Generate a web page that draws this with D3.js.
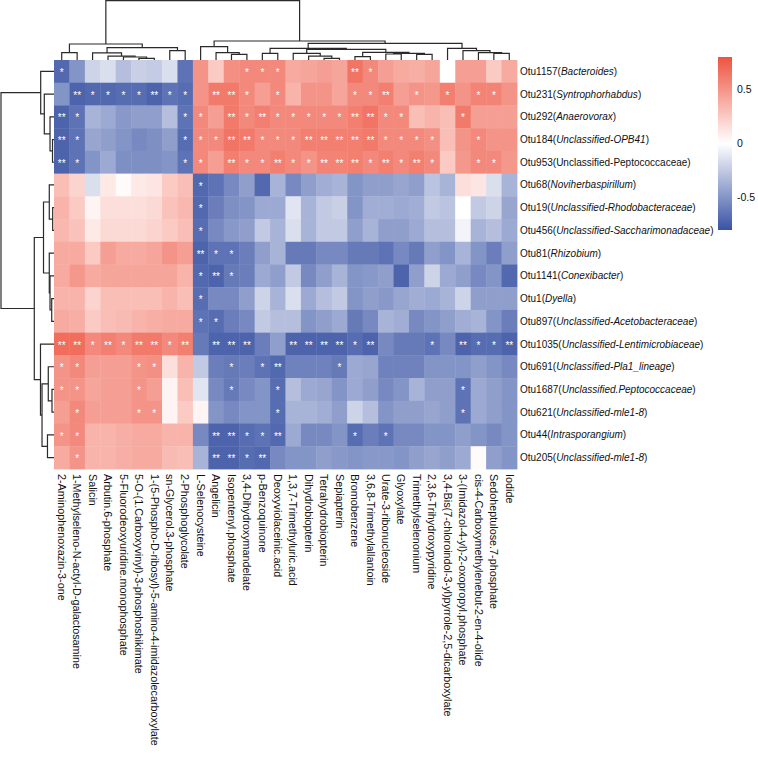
<!DOCTYPE html>
<html><head><meta charset="utf-8">
<script src="https://cdn.jsdelivr.net/npm/d3@7"></script>
<style>
body{margin:0;background:#fff}
svg{display:block}
text{font-family:"Liberation Sans",Arial,sans-serif;}
</style>
</head><body>
<svg id="chart" width="758" height="758"></svg>
<script>
// ---------------- data ----------------
const colNames = [
  "2-Aminophenoxazin-3-one",
  "1-Methylseleno-N-actyl-D-galactosamine",
  "Salicin",
  "Arbutin.6-phosphate",
  "5-Fluorodeoxyuridine.monophosphate",
  "5-O-(1.Carboxyvinyl)-3-phosphoshikimate",
  "1-(5-Phospho-D-ribosyl)-5-amino-4-imidazolecarboxylate",
  "sn-Glycerol.3-phosphate",
  "2-Phosphoglycolate",
  "L-Selenocysteine",
  "Angelicin",
  "Isopentenyl.phosphate",
  "3,4-Dihydroxymandelate",
  "p-Benzoquinone",
  "Deoxyviolaceinic.acid",
  "1,3,7-Trimethyluric.acid",
  "Dihydrobiopterin",
  "Tetrahydrobiopterin",
  "Sepiapterin",
  "Bromobenzene",
  "3,6,8-Trimethylallantoin",
  "Urate-3-ribonucleoside",
  "Glyoxylate",
  "Trimethylselenonium",
  "2,3,6-Trihydroxypyridine",
  "3,4-Bis(7-chloroindol-3-yl)pyrrole-2,5-dicarboxylate",
  "3-(Imidazol-4-yl)-2-oxopropyl.phosphate",
  "cis-4-Carboxymethylenebut-2-en-4-olide",
  "Sedoheptulose.7-phosphate",
  "Iodide"
];

const rowIds = ["Otu1157","Otu231","Otu292","Otu184","Otu953","Otu68","Otu19","Otu456","Otu81",
  "Otu1141","Otu1","Otu897","Otu1035","Otu691","Otu1687","Otu621","Otu44","Otu205"];
const rowTaxa = ["Bacteroides","Syntrophorhabdus","Anaerovorax","Unclassified-OPB41",
  "Unclassified-Peptococcaceae","Noviherbaspirillum","Unclassified-Rhodobacteraceae",
  "Unclassified-Saccharimonadaceae","Rhizobium","Conexibacter","Dyella",
  "Unclassified-Acetobacteraceae","Unclassified-Lentimicrobiaceae","Unclassified-Pla1_lineage",
  "Unclassified.Peptococcaceae","Unclassified-mle1-8","Intrasporangium","Unclassified-mle1-8"];
const uprightTaxa = ["Otu953"];

// correlation values, one array per row (18 rows x 30 columns)
const values = [
  [-0.70,-0.50,-0.20,-0.15,-0.30,-0.22,-0.24,-0.15,-0.65, 0.50,0.25,0.52, 0.55,0.55,0.55,0.40,0.42,0.45,0.42,0.65, 0.55,0.45,0.40,0.38,0.42, 0.00,0.45,0.45,0.25,0.40],
  [-0.50,-0.72,-0.70,-0.70,-0.68,-0.68,-0.72,-0.65,-0.68, 0.50,0.62,0.62, 0.55,0.45,0.55,0.35,0.50,0.50,0.42,0.55, 0.55,0.60,0.45,0.50,0.48, 0.60,0.50,0.58,0.58,0.50],
  [-0.72,-0.65,-0.35,-0.40,-0.48,-0.45,-0.45,-0.30,-0.65, 0.55,0.45,0.62, 0.55,0.60,0.55,0.55,0.55,0.55,0.55,0.60, 0.65,0.55,0.55,0.30,0.35, 0.30,0.62,0.45,0.45,0.45],
  [-0.72,-0.65,-0.42,-0.45,-0.50,-0.55,-0.52,-0.45,-0.68, 0.55,0.55,0.65, 0.62,0.55,0.55,0.55,0.60,0.60,0.60,0.60, 0.62,0.55,0.55,0.55,0.52, 0.30,0.50,0.55,0.50,0.50],
  [-0.72,-0.65,-0.50,-0.40,-0.52,-0.52,-0.52,-0.50,-0.65, 0.55,0.45,0.60, 0.55,0.55,0.60,0.55,0.50,0.58,0.58,0.60, 0.55,0.60,0.55,0.60,0.55, 0.25,0.48,0.55,0.55,0.48],
  [0.30,0.20,-0.15,0.10,0.02,0.10,0.12,0.25,0.30, -0.70,-0.65,-0.55, -0.45,-0.70,-0.35,-0.55,-0.45,-0.38,-0.35,-0.50, -0.45,-0.45,-0.42,-0.45,-0.28, -0.35,0.15,0.12,-0.15,-0.35],
  [0.35,0.25,0.05,0.15,0.15,0.15,0.18,0.28,0.33, -0.70,-0.60,-0.52, -0.50,-0.40,-0.40,-0.12,-0.35,-0.25,-0.22,-0.50, -0.38,-0.38,-0.40,-0.38,-0.25, -0.28,0.00,-0.25,-0.20,-0.42],
  [0.33,0.28,0.10,0.18,0.18,0.18,0.20,0.25,0.30, -0.68,-0.55,-0.48, -0.45,-0.25,-0.35,-0.15,-0.35,-0.25,-0.25,-0.45, -0.35,-0.45,-0.45,-0.40,-0.30, -0.30,-0.05,-0.35,-0.30,-0.40],
  [0.40,0.40,0.25,0.45,0.40,0.40,0.42,0.50,0.45, -0.72,-0.65,-0.65, -0.60,-0.45,-0.35,-0.62,-0.62,-0.55,-0.55,-0.62, -0.62,-0.65,-0.55,-0.62,-0.45, -0.50,-0.35,-0.50,-0.60,-0.45],
  [0.40,0.48,0.40,0.42,0.42,0.42,0.42,0.42,0.35, -0.70,-0.72,-0.62, -0.60,-0.40,-0.45,-0.25,-0.55,-0.45,-0.35,-0.50, -0.48,-0.45,-0.72,-0.45,-0.20, -0.40,-0.45,-0.55,-0.50,-0.70],
  [0.35,0.35,0.20,0.30,0.30,0.30,0.30,0.35,0.30, -0.68,-0.55,-0.55, -0.45,-0.20,-0.35,-0.15,-0.40,-0.30,-0.25,-0.50, -0.45,-0.48,-0.42,-0.38,-0.40, -0.35,-0.20,-0.45,-0.45,-0.45],
  [0.40,0.38,0.25,0.30,0.32,0.35,0.38,0.40,0.40, -0.65,-0.68,-0.60, -0.55,-0.25,-0.30,-0.30,-0.50,-0.45,-0.40,-0.62, -0.55,-0.35,-0.38,-0.55,-0.50, -0.45,-0.38,-0.35,-0.50,-0.60],
  [0.68,0.68,0.55,0.60,0.55,0.62,0.62,0.55,0.60, -0.62,-0.72,-0.72, -0.72,-0.60,-0.45,-0.72,-0.72,-0.72,-0.72,-0.68, -0.72,-0.55,-0.62,-0.62,-0.65, -0.55,-0.72,-0.68,-0.68,-0.72],
  [0.50,0.55,0.45,0.45,0.45,0.50,0.52,0.15,0.35, -0.25,-0.60,-0.62, -0.60,-0.65,-0.70,-0.58,-0.58,-0.58,-0.62,-0.40, -0.42,-0.58,-0.58,-0.58,-0.50, -0.50,-0.50,-0.45,-0.50,-0.55],
  [0.50,0.50,0.42,0.45,0.45,0.50,0.45,0.05,0.30, -0.12,-0.55,-0.62, -0.55,-0.50,-0.68,-0.30,-0.40,-0.42,-0.50,-0.40, -0.45,-0.55,-0.50,-0.35,-0.45, -0.45,-0.65,-0.40,-0.45,-0.50],
  [0.45,0.55,0.45,0.45,0.45,0.50,0.50,0.05,0.25, 0.05,-0.50,-0.55, -0.50,-0.50,-0.68,-0.35,-0.35,-0.38,-0.45,-0.20, -0.30,-0.50,-0.45,-0.45,-0.42, -0.45,-0.65,-0.40,-0.45,-0.50],
  [0.50,0.55,0.35,0.35,0.38,0.40,0.40,0.35,0.35, -0.55,-0.72,-0.72, -0.68,-0.65,-0.70,-0.40,-0.55,-0.55,-0.50,-0.68, -0.60,-0.65,-0.55,-0.55,-0.50, -0.50,-0.45,-0.50,-0.55,-0.50],
  [0.40,0.50,0.35,0.35,0.38,0.40,0.40,0.32,0.30, -0.35,-0.72,-0.72, -0.68,-0.70,-0.55,-0.50,-0.50,-0.45,-0.48,-0.50, -0.48,-0.48,-0.50,-0.45,-0.42, -0.45,-0.40,0.02,-0.45,-0.50]
];

// significance per cell: 0 none, 1 "*", 2 "**"
const signif = [
  "100000000000111000021000000000",
  "021111211022101000011201010110",
  "210000001102121111122110001000",
  "210000001112211122222111100100",
  "210000001102112112221212100110",
  "000000000100000000000000000000",
  "000000000100000000000000000000",
  "000000000100000000000000000000",
  "000000000211000000000000000000",
  "000000000121000000000000000000",
  "000000000100000000000000000000",
  "000000000110000000000000000000",
  "221212212022200222212000102112",
  "110001100001012000100000000000",
  "110001000001001000000000001000",
  "010001100000001000000000001000",
  "110000000022112000010100000000",
  "010000000022120000000000000000"
];
const starText = ["", "*", "**"];

const legendTicks = [0.5, 0, -0.5];
const colorDomain = [-0.8, 0, 0.8];

// clustering trees (merge heights in relative distance units; leaves are indices)
const colTree = {h:10, c:[
  {h:2.70, c:[ {h:1.23, c:[0,1]},
               {h:2.07, c:[ {h:1.20, c:[2, {h:0.67, c:[3, {h:0.51, c:[4, {h:0.29, c:[5,6]}]}]}]},
                            {h:1.57, c:[7,8]} ]} ]},
  {h:3.20, c:[
     {h:2.24, c:[9, {h:1.23, c:[10, {h:0.96, c:[11,12]}]}]},
     {h:2.82, c:[
        {h:1.97, c:[ {h:1.13, c:[13,14]},
                     {h:1.80, c:[ {h:1.13, c:[15, {h:0.67, c:[16, {h:0.29, c:[17,18]}]}]},
                                  {h:1.30, c:[ {h:0.56, c:[19,20]},
                                               {h:1.13, c:[ {h:1.01, c:[21,22]}, {h:0.96, c:[23,24]} ]} ]} ]} ]},
        {h:1.97, c:[25, {h:1.57, c:[26, {h:1.23, c:[27, {h:1.13, c:[28,29]}]}]}]}
     ]}
  ]}
]};

const rowTree = {h:10, c:[
  {h:2.51, c:[0, {h:1.83, c:[1, {h:0.75, c:[2, {h:0.28, c:[3,4]}]}]}]},
  {h:3.72, c:[
     {h:1.98, c:[ {h:0.89, c:[5, {h:0.25, c:[6,7]}]},
                  {h:0.89, c:[8, {h:0.75, c:[9, {h:0.43, c:[10,11]}]}]} ]},
     {h:2.55, c:[12, {h:2.26, c:[ {h:1.08, c:[13, {h:0.38, c:[14,15]}]}, {h:1.23, c:[16,17]} ]}]}
  ]}
]};

// ---------------- drawing ----------------
const svg = d3.select("#chart");
const hm = {x0:54, x1:517, y0:60, y1:469};

const x = d3.scaleBand().domain(d3.range(colNames.length)).range([hm.x0, hm.x1]).paddingInner(0).paddingOuter(0);
const y = d3.scaleBand().domain(d3.range(rowIds.length)).range([hm.y0, hm.y1]).paddingInner(0).paddingOuter(0);
const color = d3.scaleLinear().domain(colorDomain).range(["#3953A4", "#ffffff", "#EE5440"]).interpolate(d3.interpolateRgb).clamp(true);

// cells
const cells = [];
values.forEach((row, i) => row.forEach((v, j) => cells.push({i, j, v, s: +signif[i][j]})));

svg.append("g").selectAll("rect").data(cells).join("rect")
  .attr("x", d => x(d.j)).attr("y", d => y(d.i))
  .attr("width", x.bandwidth() + 0.4).attr("height", y.bandwidth() + 0.4)
  .attr("fill", d => color(d.v));

svg.append("g").selectAll("text").data(cells.filter(d => d.s > 0)).join("text")
  .attr("x", d => x(d.j) + x.bandwidth() / 2)
  .attr("y", d => y(d.i) + y.bandwidth() / 2 + 4.6)
  .attr("text-anchor", "middle")
  .attr("font-size", 10)
  .attr("fill", "#ffffff")
  .text(d => starText[d.s]);

// dendrograms
function dendroPaths(tree, leafPos) {
  const root = d3.hierarchy(tree, d => (typeof d === "number") ? null : d.c);
  root.eachAfter(n => {
    if (!n.children) { n.pos = leafPos(n.data); n.ht = 0; }
    else { n.pos = d3.mean(n.children, c => c.pos); n.ht = n.data.h; }
  });
  return root.descendants().filter(n => n.children);
}

const colH = d3.scaleLinear().domain([0, 10]).range([hm.y0, 0.7]);
const rowH = d3.scaleLinear().domain([0, 10]).range([hm.x0, 1]);

const colNodes = dendroPaths(colTree, j => x(j) + x.bandwidth() / 2);
svg.append("g").attr("fill", "none").attr("stroke", "#2a2a2a").attr("stroke-width", 1.2)
  .selectAll("path").data(colNodes).join("path")
  .attr("d", n => {
    const [a, b] = n.children;
    return `M${a.pos},${colH(a.ht)}V${colH(n.ht)}H${b.pos}V${colH(b.ht)}`;
  });

const rowNodes = dendroPaths(rowTree, i => y(i) + y.bandwidth() / 2);
svg.append("g").attr("fill", "none").attr("stroke", "#2a2a2a").attr("stroke-width", 1.2)
  .selectAll("path").data(rowNodes).join("path")
  .attr("d", n => {
    const [a, b] = n.children;
    return `M${rowH(a.ht)},${a.pos}H${rowH(n.ht)}V${b.pos}H${rowH(b.ht)}`;
  });

// row labels
const rl = svg.append("g").selectAll("text").data(rowIds).join("text")
  .attr("x", hm.x1 + 3)
  .attr("y", (d, i) => y(i) + y.bandwidth() / 2)
  .attr("dy", "0.35em")
  .attr("font-size", 10)
  .attr("fill", "#111");
rl.append("tspan").text(d => d + "(");
rl.append("tspan").attr("font-style", d => uprightTaxa.includes(d) ? "normal" : "italic")
  .text((d, i) => rowTaxa[i]);
rl.append("tspan").text(")");

// column labels
svg.append("g").selectAll("text").data(colNames).join("text")
  .attr("transform", (d, j) => `translate(${x(j) + x.bandwidth() / 2},${hm.y1 + 5}) rotate(90)`)
  .attr("dy", "0.35em")
  .attr("font-size", 10.8)
  .attr("fill", "#111")
  .text(d => d);

// legend
const lg = {x: 718, w: 14, y0: 57, y1: 230};
const ly = d3.scaleLinear().domain([colorDomain[2], colorDomain[0]]).range([lg.y0, lg.y1]);
const defs = svg.append("defs");
const grad = defs.append("linearGradient").attr("id", "lgGrad")
  .attr("x1", 0).attr("x2", 0).attr("y1", 0).attr("y2", 1);
d3.range(0, 1.0001, 0.05).forEach(t => {
  const v = ly.invert(lg.y0 + t * (lg.y1 - lg.y0));
  grad.append("stop").attr("offset", t).attr("stop-color", color(v));
});
svg.append("rect").attr("x", lg.x).attr("y", lg.y0).attr("width", lg.w)
  .attr("height", lg.y1 - lg.y0).attr("fill", "url(#lgGrad)");
svg.append("g").selectAll("text").data(legendTicks).join("text")
  .attr("x", lg.x + lg.w + 5)
  .attr("y", d => ly(d))
  .attr("dy", "0.35em")
  .attr("font-size", 10.5)
  .attr("fill", "#111")
  .text(d => d);
</script>
</body></html>
